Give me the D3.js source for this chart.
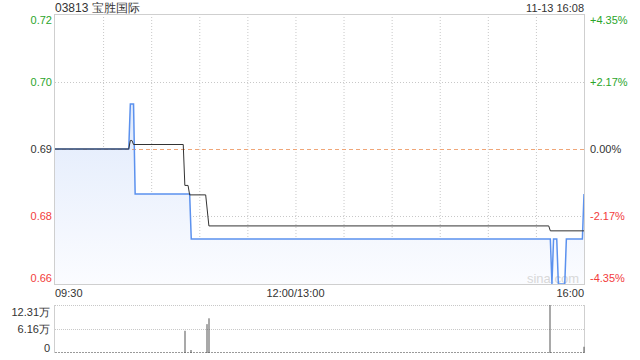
<!DOCTYPE html>
<html><head><meta charset="utf-8">
<script src="https://cdn.jsdelivr.net/npm/d3@7"></script>
<style>
html,body{margin:0;padding:0;background:#fff;}
svg{display:block;font-family:"Liberation Sans",Arial,sans-serif;}
</style></head>
<body>
<svg id="c" width="640" height="360"></svg>
<script>
// ---- data ----
const title = "03813 宝胜国际";
const stamp = "11-13 16:08";
const prevClose = 0.69;
const pctRange = 0.0435;
// minute index (0 = 09:30, 150 = 12:00/13:00, 330 = 16:00) and price
const priceMin = [0, 46, 47, 49, 50, 84, 85, 309, 310, 311, 313, 314, 318, 319, 329, 330];
const priceVal = [0.69, 0.69, 0.70, 0.70, 0.68, 0.68, 0.67, 0.67, 0.66, 0.67, 0.67, 0.66, 0.66, 0.67, 0.67, 0.68];
const avgMin = [0, 46, 47, 48, 49, 80, 81, 83, 84, 94, 96, 308, 309, 330];
const avgVal = [0.69, 0.69, 0.6919, 0.6919, 0.691, 0.691, 0.6819, 0.6819, 0.6798, 0.6798, 0.6729, 0.6729, 0.6718, 0.6718];
const volMin = [81, 85, 95, 96, 309, 330];
const volVal = [57000, 7700, 74000, 89000, 123100, 16000];
const volMax = 123100;
const leftTickLabels = ["0.72", "0.70", "0.69", "0.68", "0.66"];
const pctTicks = [0.0435, 0.0217, 0, -0.0217, -0.0435];
const rightTickLabels = ["+4.35%", "+2.17%", "0.00%", "-2.17%", "-4.35%"];
const volTickVals = [123100, 61550, 0];
const volTickLabels = ["12.31万", "6.16万", "0"];
const timeTicks = [0, 150, 330];
const timeLabels = ["09:30", "12:00/13:00", "16:00"];

// ---- layout ----
const L = 55, R = 584, T = 14, B = 284, VT = 305, VB = 353;
const svg = d3.select("#c");
const x = d3.scaleLinear().domain([0, 330]).range([L, R]);
const y = d3.scaleLinear().domain([prevClose * (1 - pctRange), prevClose * (1 + pctRange)]).range([B, T]);
const vy = d3.scaleLinear().domain([0, volMax]).range([VB, VT]);
const GREEN = "#2aa52a", RED = "#f23c3c", DARK = "#333";
const colorFor = p => p > 0 ? GREEN : (p < 0 ? RED : DARK);

// gradient
const defs = svg.append("defs");
const g = defs.append("linearGradient").attr("id", "fillg").attr("gradientUnits", "userSpaceOnUse")
  .attr("x1", 0).attr("y1", T).attr("x2", 0).attr("y2", B);
g.append("stop").attr("offset", "0%").attr("stop-color", "#d3e1fa");
g.append("stop").attr("offset", "100%").attr("stop-color", "#fbfcff");

// grid
const vgrid = d3.range(30, 330, 30);
svg.append("g").selectAll("line").data(vgrid).join("line")
  .attr("x1", d => x(d) + 0.5).attr("x2", d => x(d) + 0.5).attr("y1", T).attr("y2", B)
  .attr("stroke", "#c8c8c8").attr("stroke-dasharray", "1,2");
svg.append("g").selectAll("line").data([0.0217, -0.0217]).join("line")
  .attr("x1", L).attr("x2", R).attr("y1", d => Math.round(y(prevClose * (1 + d))) + 0.5)
  .attr("y2", d => Math.round(y(prevClose * (1 + d))) + 0.5)
  .attr("stroke", "#c8c8c8").attr("stroke-dasharray", "1,2");

// area + lines
const pts = priceMin.map((m, i) => [m, priceVal[i]]);
const apts = avgMin.map((m, i) => [m, avgVal[i]]);
svg.append("path").datum(pts)
  .attr("d", d3.area().x(d => x(d[0])).y0(B).y1(d => y(d[1])))
  .attr("fill", "url(#fillg)");

// watermark
svg.append("text").attr("x", 553).attr("y", 283).attr("text-anchor", "middle")
  .attr("font-size", 13).attr("fill", "#d8d8d8").text("sina.com");

// prev close dashed
svg.append("line").attr("x1", L).attr("x2", R)
  .attr("y1", Math.round(y(prevClose)) + 0.5).attr("y2", Math.round(y(prevClose)) + 0.5)
  .attr("stroke", "#f0a678").attr("stroke-dasharray", "4,3");

svg.append("path").datum(pts)
  .attr("d", d3.line().x(d => x(d[0])).y(d => y(d[1])))
  .attr("fill", "none").attr("stroke", "#5b91ee").attr("stroke-width", 1.5);
svg.append("path").datum(apts)
  .attr("d", d3.line().x(d => x(d[0])).y(d => y(d[1])))
  .attr("fill", "none").attr("stroke", "#333").attr("stroke-width", 1);

// main border
svg.append("rect").attr("x", L - 0.5).attr("y", T + 0.5).attr("width", R - L + 1).attr("height", B - T)
  .attr("fill", "none").attr("stroke", "#cfcfcf");

// left labels
svg.append("g").selectAll("text").data(pctTicks).join("text")
  .attr("x", 52).attr("text-anchor", "end").attr("font-size", 11)
  .attr("y", (d, i) => y(prevClose * (1 + d)) + (i === 0 ? 6 : i === 4 ? -6 : 0))
  .attr("dy", "0.35em").attr("fill", d => colorFor(d)).text((d, i) => leftTickLabels[i]);
// right labels
svg.append("g").selectAll("text").data(pctTicks).join("text")
  .attr("x", 590).attr("text-anchor", "start").attr("font-size", 11)
  .attr("y", (d, i) => y(prevClose * (1 + d)) + (i === 0 ? 6 : i === 4 ? -6 : 0))
  .attr("dy", "0.35em").attr("fill", d => colorFor(d)).text((d, i) => rightTickLabels[i]);

// title & stamp
svg.append("text").attr("x", 55).attr("y", 12).attr("font-size", 12).attr("fill", DARK).text(title);
svg.append("text").attr("x", 584).attr("y", 12).attr("text-anchor", "end").attr("font-size", 11)
  .attr("fill", DARK).text(stamp);

// time labels
svg.append("g").selectAll("text").data(timeTicks).join("text")
  .attr("x", d => x(d)).attr("y", 297).attr("font-size", 11).attr("fill", DARK)
  .attr("text-anchor", (d, i) => i === 0 ? "start" : i === 2 ? "end" : "middle")
  .text((d, i) => timeLabels[i]);

// volume panel
svg.append("g").selectAll("line").data([volMax, volMax / 2]).join("line")
  .attr("x1", L).attr("x2", R).attr("y1", d => Math.round(vy(d)) + 0.5).attr("y2", d => Math.round(vy(d)) + 0.5)
  .attr("stroke", "#c8c8c8").attr("stroke-dasharray", "1,1");
svg.append("line").attr("x1", L).attr("x2", R).attr("y1", VB - 0.5).attr("y2", VB - 0.5)
  .attr("stroke", "#9a9a9a").attr("stroke-dasharray", "2,1");
svg.append("line").attr("x1", L - 0.5).attr("x2", L - 0.5).attr("y1", VT).attr("y2", VB)
  .attr("stroke", "#cfcfcf");
svg.append("line").attr("x1", R + 0.5).attr("x2", R + 0.5).attr("y1", VT).attr("y2", VB)
  .attr("stroke", "#cfcfcf");
svg.append("g").selectAll("rect").data(volMin).join("rect")
  .attr("x", d => Math.round(x(d)) - 0.5).attr("width", 1)
  .attr("y", (d, i) => vy(volVal[i])).attr("height", (d, i) => VB - vy(volVal[i]))
  .attr("fill", "#555");
svg.append("g").selectAll("text").data(volTickVals).join("text")
  .attr("x", 50).attr("text-anchor", "end").attr("font-size", 11).attr("fill", DARK)
  .attr("y", (d, i) => vy(d) + (i === 0 ? 7 : i === 2 ? -5 : 0)).attr("dy", "0.35em")
  .text((d, i) => volTickLabels[i]);
</script>
</body></html>
